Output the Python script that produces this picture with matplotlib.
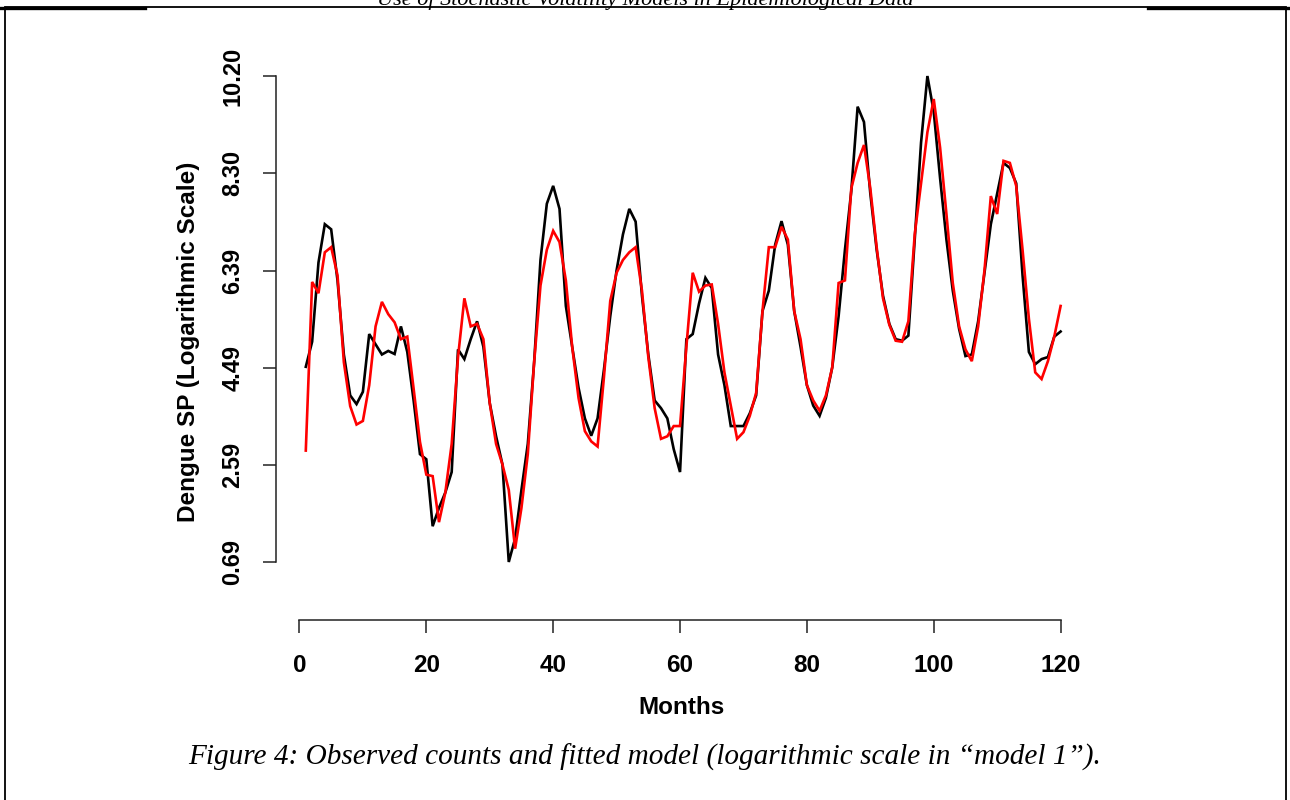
import matplotlib
matplotlib.use("Agg")
import matplotlib.pyplot as plt
from matplotlib.lines import Line2D
from matplotlib.patches import Rectangle
import numpy as np

# ---------------- data ----------------
months = list(range(1, 121))

observed = [
    4.51, 5.00, 6.55, 7.30, 7.20, 6.20, 4.75, 3.95, 3.78, 4.02,
    5.15, 4.95, 4.75, 4.82, 4.76, 5.30, 4.80, 3.85, 2.80, 2.70,
    1.39, 1.75, 2.05, 2.45, 4.85, 4.66, 5.05, 5.40, 4.90, 3.80,
    3.15, 2.60, 0.69, 1.15, 2.10, 3.00, 4.60, 6.60, 7.70, 8.05,
    7.60, 5.70, 4.90, 4.10, 3.50, 3.16, 3.50, 4.45, 5.50, 6.40,
    7.10, 7.60, 7.35, 5.90, 4.75, 3.85, 3.70, 3.50, 2.90, 2.45,
    5.05, 5.15, 5.75, 6.25, 6.05, 4.75, 4.15, 3.35, 3.35, 3.35,
    3.60, 3.95, 5.60, 6.00, 6.90, 7.36, 6.90, 5.60, 4.90, 4.15,
    3.75, 3.55, 3.90, 4.50, 5.50, 6.80, 7.95, 9.60, 9.30, 7.90,
    6.80, 5.90, 5.35, 5.05, 5.02, 5.12, 7.00, 8.90, 10.20, 9.50,
    8.20, 7.00, 6.00, 5.25, 4.72, 4.75, 5.40, 6.35, 7.30, 7.90,
    8.50, 8.40, 8.10, 6.30, 4.80, 4.56, 4.66, 4.70, 5.10, 5.20,
]

fitted = [
    2.87, 6.17, 5.95, 6.75, 6.85, 6.30, 4.60, 3.74, 3.38, 3.45,
    4.15, 5.30, 5.78, 5.54, 5.38, 5.05, 5.10, 4.08, 3.04, 2.40,
    2.37, 1.47, 2.05, 3.00, 4.70, 5.85, 5.30, 5.35, 5.05, 3.80,
    3.00, 2.60, 2.10, 0.95, 1.75, 2.80, 4.60, 6.10, 6.80, 7.17,
    6.95, 6.20, 4.90, 3.90, 3.25, 3.05, 2.95, 4.30, 5.80, 6.35,
    6.60, 6.75, 6.85, 6.00, 4.70, 3.70, 3.10, 3.15, 3.35, 3.35,
    4.90, 6.35, 5.98, 6.10, 6.12, 5.35, 4.40, 3.75, 3.10, 3.23,
    3.55, 4.00, 5.60, 6.85, 6.85, 7.25, 7.00, 5.60, 5.05, 4.15,
    3.85, 3.65, 3.95, 4.50, 6.15, 6.20, 8.00, 8.50, 8.85, 8.00,
    6.85, 5.85, 5.33, 5.02, 5.00, 5.40, 7.10, 8.10, 9.10, 9.75,
    8.80, 7.50, 6.15, 5.30, 4.85, 4.62, 5.30, 6.40, 7.85, 7.50,
    8.54, 8.50, 8.05, 6.80, 5.45, 4.40, 4.27, 4.62, 5.10, 5.70,
]

x_ticks = [0, 20, 40, 60, 80, 100, 120]
y_ticks = [0.69, 2.59, 4.49, 6.39, 8.30, 10.20]
y_tick_labels = ["0.69", "2.59", "4.49", "6.39", "8.30", "10.20"]

x_label = "Months"
y_label = "Dengue SP (Logarithmic Scale)"
caption = "Figure 4: Observed counts and fitted model (logarithmic scale in \u201cmodel 1\u201d)."
header = "Use of Stochastic Volatility Models in Epidemiological Data"

# ---------------- layout ----------------
W, H = 1290, 800
fig = plt.figure(figsize=(W / 100, H / 100), dpi=100)
fig.patch.set_facecolor("white")

def fx(px):
    return px / W

def fy(py):
    return 1 - py / H

# axes in pixel coordinates (top-left origin)
ax_left, ax_right = 275.6, 1090.8
ax_top, ax_bottom = 56.6, 581.4
ax = fig.add_axes([fx(ax_left), fy(ax_bottom), (ax_right - ax_left) / W, (ax_bottom - ax_top) / H])
ax.set_xlim(-3.76, 124.76)
ax.set_ylim(0.31, 10.58)

ax.plot(months, observed, color="black", lw=1.9, solid_joinstyle="miter")
ax.plot(months, fitted, color="#ff0000", lw=1.9, solid_joinstyle="miter")

for s in ["top", "right"]:
    ax.spines[s].set_visible(False)
ax.spines["bottom"].set_position(("outward", 27.8))
ax.spines["bottom"].set_bounds(0, 120)
ax.spines["left"].set_bounds(0.69, 10.20)
for s in ["bottom", "left"]:
    ax.spines[s].set_linewidth(1.1)
    ax.spines[s].set_color("#222222")

tick_font = ["Liberation Sans", "DejaVu Sans"]
ax.set_xticks(x_ticks)
ax.set_xticklabels([str(t) for t in x_ticks], fontsize=17.5, fontweight="bold", family=tick_font)
ax.set_yticks(y_ticks)
ax.set_yticklabels(y_tick_labels, fontsize=17, fontweight="bold", family=tick_font,
                   rotation=90, va="center")
ax.tick_params(axis="both", direction="out", length=9.4, width=1.1, color="#222222")
ax.tick_params(axis="x", pad=15)
ax.tick_params(axis="y", pad=13)

fig.text(fx(682), fy(708), x_label, ha="center", va="center", fontsize=17.5,
         fontweight="bold", family=tick_font)
fig.text(fx(189), fy(342), y_label, ha="center", va="center", rotation=90, fontsize=17.5,
         fontweight="bold", family=tick_font)

# caption and page header
fig.text(fx(645), fy(757), caption, ha="center", va="center", fontsize=21.1,
         style="italic", family=["Liberation Serif", "DejaVu Serif"])
fig.text(fx(645), fy(5), header, ha="center", va="baseline", fontsize=16,
         style="italic", family=["Liberation Serif", "DejaVu Serif"])

# frame around the figure and header rules
fig.add_artist(Rectangle((fx(5), fy(830)), (1286 - 5) / W, (830 - 7) / H,
                         transform=fig.transFigure, fill=False, lw=1.3, ec="black"))
fig.add_artist(Line2D([fx(0), fx(145)], [fy(7.5), fy(7.5)], transform=fig.transFigure,
                      lw=2.4, color="black"))
fig.add_artist(Line2D([fx(1148), fx(1290)], [fy(7.5), fy(7.5)], transform=fig.transFigure,
                      lw=2.4, color="black"))

fig.savefig("out.png", dpi=100, facecolor="white")
